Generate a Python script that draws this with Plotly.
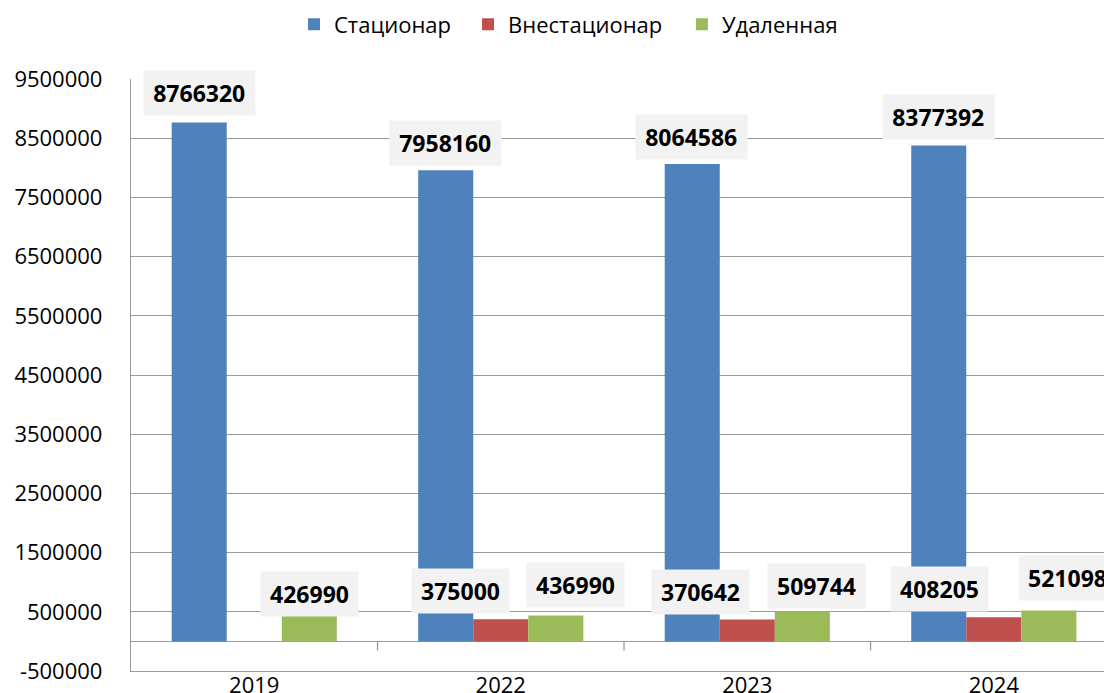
import plotly.graph_objects as go

years = ["2019", "2022", "2023", "2024"]
series_names = ["Стационар", "Внестационар", "Удаленная"]
stationary = [8766320, 7958160, 8064586, 8377392]
non_stationary = [None, 375000, 370642, 408205]
remote = [426990, 436990, 509744, 521098]
y_ticks = [-500000, 500000, 1500000, 2500000, 3500000, 4500000,
           5500000, 6500000, 7500000, 8500000, 9500000]

colors = ["#4F81BD", "#C0504D", "#9BBB59"]
# label fine-tuning (pixels): extra x shift, gap above bar
label_dx = [[0, 0, -1, 0], [0, -40, -47, -54], [0, 20, 14, 19]]
label_dy = [[6, 4, 4, 5], [5, 5, 4, 5], [-1, 8, 2, 10]]
legend_x = [0.1675, 0.3464, 0.5662]

FONT = "Open Sans"
GRID = "#9a9a9a"

fig = go.Figure()
all_series = [stationary, non_stationary, remote]
legend_ids = ["legend", "legend2", "legend3"]
for name, vals, col, lid in zip(series_names, all_series, colors, legend_ids):
    fig.add_trace(go.Bar(name=name, x=years, y=vals, legend=lid,
                         marker=dict(color=col, line=dict(width=0))))

bargap = 0.33
bw = (1 - bargap) / 3
for si, vals in enumerate(all_series):
    for ci, v in enumerate(vals):
        if v is None:
            continue
        s = str(v)
        fig.add_annotation(
            x=ci + (si - 1) * bw, y=v, xref="x", yref="y",
            text=f"<b>{s}</b>", showarrow=False,
            xanchor="center", yanchor="bottom",
            xshift=label_dx[si][ci], yshift=label_dy[si][ci],
            width=13.5 * len(s) + 4, align="center",
            bgcolor="#F2F2F2", borderpad=6,
            font=dict(family=FONT, size=23, color="#000000"),
        )

# small category separator ticks below the zero line
for b in range(1, len(years) + 1):
    fig.add_shape(type="line", xref="x", yref="y", x0=b - 0.5, x1=b - 0.5,
                  ysizemode="pixel", yanchor=0, y0=0, y1=-9,
                  line=dict(color=GRID, width=1.3))

legend_common = dict(orientation="h", xanchor="left", y=0.995, yref="container",
                     yanchor="top", font=dict(family=FONT, size=22, color="#000000"),
                     bgcolor="rgba(0,0,0,0)")
fig.update_layout(
    width=1104, height=693,
    margin=dict(l=131, r=0, t=79, b=22),
    paper_bgcolor="white", plot_bgcolor="white",
    barmode="group", bargap=bargap, bargroupgap=0,
    font=dict(family=FONT, size=22, color="#000000"),
    legend=dict(x=legend_x[0], **legend_common),
    legend2=dict(x=legend_x[1], **legend_common),
    legend3=dict(x=legend_x[2], **legend_common),
    showlegend=True,
)
fig.update_xaxes(
    type="category", range=[-0.5, 3.447], showgrid=False,
    showline=True, linecolor=GRID, linewidth=1.3, ticks="",
    ticklabelstandoff=-6,
    tickfont=dict(family=FONT, size=22), automargin=False,
)
fig.update_yaxes(
    range=[-500000, 9500000], tickvals=y_ticks, ticktext=[str(t) for t in y_ticks],
    showgrid=True, gridcolor=GRID, gridwidth=1.3,
    zeroline=True, zerolinecolor=GRID, zerolinewidth=1.3,
    showline=True, linecolor=GRID, linewidth=1.3, ticks="",
    ticklabelstandoff=23, tickfont=dict(family=FONT, size=22), automargin=False,
)

fig.write_html(
    "out.html",
    config={"displayModeBar": False},
    post_script="document.body.style.margin='0';document.body.style.padding='0';",
)
